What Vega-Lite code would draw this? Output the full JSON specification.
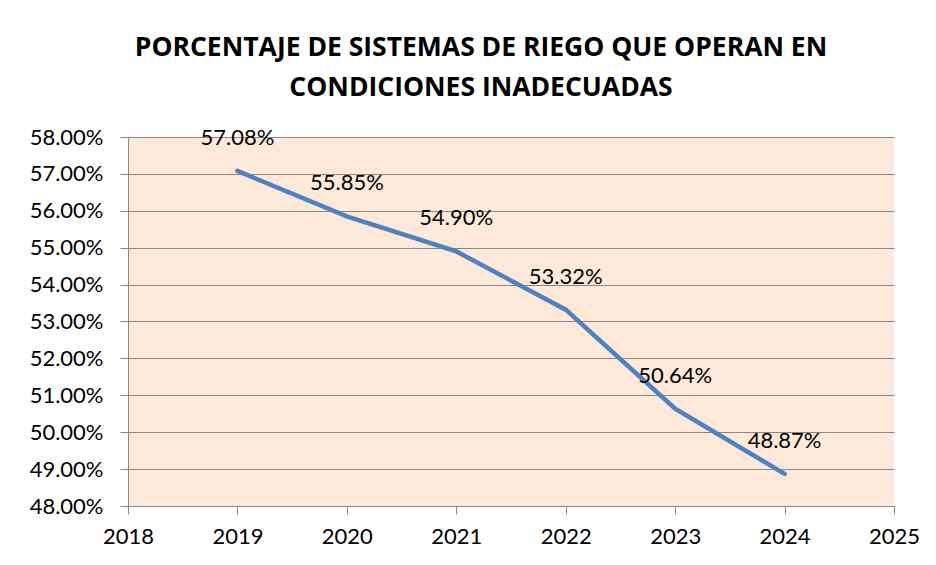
{
  "$schema": "https://vega.github.io/schema/vega-lite/v6.json",
  "width": 766,
  "height": 369,
  "autosize": {"type": "none"},
  "padding": {"left": 128, "top": 137, "right": 42, "bottom": 59},
  "background": "white",
  "config": {
    "font": "Lato",
    "view": {"fill": "#FDE9D9", "stroke": null}
  },
  "title": {
    "text": ["PORCENTAJE DE SISTEMAS DE RIEGO QUE OPERAN EN", "CONDICIONES INADECUADAS"],
    "font": "Open Sans",
    "fontSize": 26.5,
    "fontWeight": "bold",
    "color": "#000000",
    "anchor": "middle",
    "dx": -30,
    "offset": 25,
    "lineHeight": 40
  },
  "data": {
    "values": [
      {"year": 2019, "pct": 0.5708},
      {"year": 2020, "pct": 0.5585},
      {"year": 2021, "pct": 0.5490},
      {"year": 2022, "pct": 0.5332},
      {"year": 2023, "pct": 0.5064},
      {"year": 2024, "pct": 0.4887}
    ]
  },
  "encoding": {
    "x": {
      "field": "year",
      "type": "quantitative",
      "scale": {"domain": [2018, 2025], "nice": false, "zero": false},
      "axis": {
        "title": null,
        "format": "d",
        "values": [2018, 2019, 2020, 2021, 2022, 2023, 2024, 2025],
        "grid": false,
        "domainColor": "#888888",
        "tickColor": "#888888",
        "tickSize": 8,
        "labelPadding": 12,
        "labelFontSize": 22,
        "labelColor": "#000000",
        "labelFont": "Lato",
        "labelFlush": false
      }
    },
    "y": {
      "field": "pct",
      "type": "quantitative",
      "scale": {"domain": [0.48, 0.58], "nice": false, "zero": false},
      "axis": {
        "title": null,
        "format": ".2%",
        "values": [0.48, 0.49, 0.50, 0.51, 0.52, 0.53, 0.54, 0.55, 0.56, 0.57, 0.58],
        "grid": true,
        "gridColor": "#878787",
        "gridWidth": 1,
        "domainColor": "#888888",
        "tickColor": "#888888",
        "tickSize": 8,
        "labelPadding": 17,
        "labelFontSize": 22,
        "labelColor": "#000000",
        "labelFont": "Lato",
        "labelFlush": false
      }
    }
  },
  "layer": [
    {
      "mark": {"type": "line", "color": "#4F81BD", "strokeWidth": 4.5, "strokeCap": "round"}
    },
    {
      "mark": {"type": "text", "dy": -33, "fontSize": 22, "font": "Lato", "color": "#000000", "align": "center"},
      "encoding": {"text": {"field": "pct", "type": "quantitative", "format": ".2%"}}
    }
  ]
}
